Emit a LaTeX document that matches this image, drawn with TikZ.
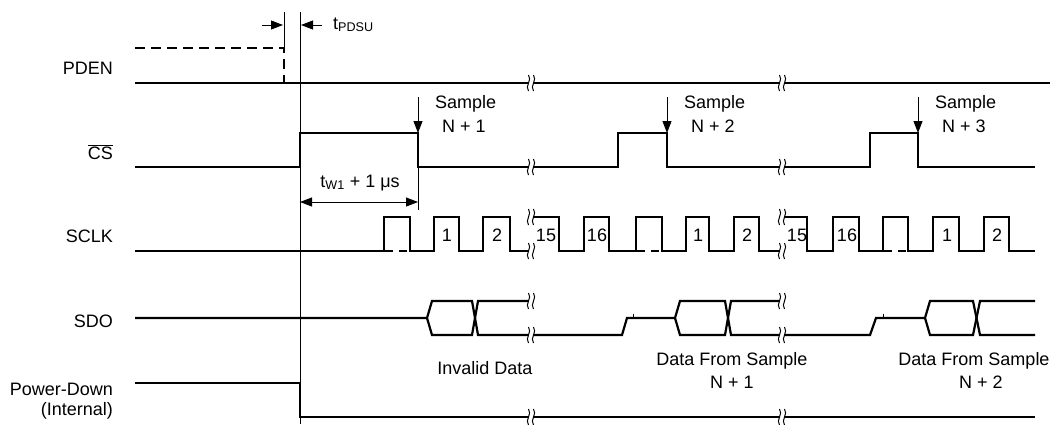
\documentclass[tikz,border=0pt]{standalone}
\usepackage{fontspec}
\setmainfont{Liberation Sans}
\usetikzlibrary{arrows.meta}

\begin{document}
\begin{tikzpicture}[x=1pt,y=-1pt,font=\fontsize{18}{22}\selectfont,
  sig/.style={line width=2.2pt},
  fine/.style={line width=0.9pt},
  tip/.style={-{Triangle[length=12pt,width=9pt]}},
  lbl/.style={anchor=base east,inner sep=0pt},
  txt/.style={anchor=base west,inner sep=0pt},
  mid/.style={anchor=base,inner sep=0pt},
  brk/.pic={
    \fill[white] (-2.5,-8) .. controls (1.5,-3) and (-6.5,3) .. (-2.5,8)
      -- (2.5,8) .. controls (-1.5,3) and (6.5,-3) .. (2.5,-8) -- cycle;
    \draw[line width=1pt] (-2.5,-8) .. controls (1.5,-3) and (-6.5,3) .. (-2.5,8);
    \draw[line width=1pt] (2.5,-8) .. controls (6.5,-3) and (-1.5,3) .. (2.5,8);
  }]
\useasboundingbox (0,0) rectangle (1055,424);

% Signal names
\node[lbl] (pden) at (113,74) {PDEN};
\node[lbl] (cs) at (113,159) {$\overline{\mbox{CS}}$};
\node[lbl] (sclk) at (113,242) {SCLK};
\node[lbl] (sdo) at (113,327) {SDO};
\node[lbl] (pd) at (113,395) {Power-Down};
\node[lbl] (pdint) at (113,415) {(Internal)};

% Reference lines
\draw[fine] (284,12) -- (284,48);
\draw[fine] (300,12) -- (300,424);

% t_PDSU
\coordinate (pl) at (262,25);
\coordinate (pr) at (283,25);
\coordinate (ql) at (301,25);
\coordinate (qr) at (322,25);
\draw[fine,tip] (pl) -- (pr);
\draw[fine,tip] (qr) -- (ql);
\node[txt] (tpdsu) at (333,29) {t\textsubscript{PDSU}};

% PDEN
\draw[sig,dash pattern=on 10pt off 6pt] (135,48) -- (284,48) -- (284,83);
\draw[sig] (135,83) -- (1050,83);

% CS
\draw[sig] (135,167) -- (300,167) -- (300,133) -- (418,133) -- (418,167)
  -- (618,167) -- (618,133) -- (667,133) -- (667,167)
  -- (870,167) -- (870,133) -- (918,133) -- (918,167) -- (1035,167);

% Sample points
\coordinate (s1) at (418,97);
\coordinate (c1) at (418,133);
\draw[fine,tip] (s1) -- (c1);
\node[txt] (smp1) at (435,108) {Sample};
\node[txt] (n1) at (442,132) {N + 1};

\coordinate (s2) at (667,97);
\coordinate (c2) at (667,133);
\draw[fine,tip] (s2) -- (c2);
\node[txt] (smp2) at (684,108) {Sample};
\node[txt] (n2) at (691,132) {N + 2};

\coordinate (s3) at (918,97);
\coordinate (c3) at (918,133);
\draw[fine,tip] (s3) -- (c3);
\node[txt] (smp3) at (935,108) {Sample};
\node[txt] (n3) at (942,132) {N + 3};

% t_W1 + 1 us
\coordinate (w0) at (300,202);
\coordinate (w1) at (418,202);
\draw[fine] (418,167) -- (418,210);
\draw[fine,{Triangle[length=12pt,width=9pt]}-{Triangle[length=12pt,width=9pt]}] (w0) -- (w1);
\node[mid] (tw) at (360,187) {t\textsubscript{W1} + 1 μs};

% SCLK
\draw[sig] (135,251) -- (384,251) -- (384,217) -- (410,217) -- (410,251)
  -- (434,251) -- (434,217) -- (459,217) -- (459,251)
  -- (483,251) -- (483,217) -- (510,217) -- (510,251) -- (531,251);
\draw[sig] (531,217) -- (559,217) -- (559,251) -- (584,251) -- (584,217)
  -- (609,217) -- (609,251) -- (636,251) -- (636,217) -- (662,217) -- (662,251)
  -- (686,251) -- (686,217) -- (709,217) -- (709,251)
  -- (734,251) -- (734,217) -- (759,217) -- (759,251) -- (782,251);
\draw[sig] (782,217) -- (807,217) -- (807,251) -- (833,251) -- (833,217)
  -- (859,217) -- (859,251) -- (883,251) -- (883,217) -- (908,217) -- (908,251)
  -- (933,251) -- (933,217) -- (959,217) -- (959,251)
  -- (984,251) -- (984,217) -- (1009,217) -- (1009,251) -- (1035,251);
\draw[sig,dash pattern=on 8pt off 6pt] (385,251) -- (410,251);
\draw[sig,dash pattern=on 8pt off 6pt] (637,251) -- (662,251);
\draw[sig,dash pattern=on 8pt off 6pt] (884,251) -- (908,251);

\node[mid] (k1) at (447,241) {1};
\node[mid] (k2) at (497,241) {2};
\node[mid] (k15) at (546,241) {15};
\node[mid] (k16) at (597,241) {16};
\node[mid] (k1b) at (698,241) {1};
\node[mid] (k2b) at (747,241) {2};
\node[mid] (k15b) at (797,241) {15};
\node[mid] (k16b) at (847,241) {16};
\node[mid] (k1c) at (947,241) {1};
\node[mid] (k2c) at (997,241) {2};

% SDO
\draw[sig] (135,318) -- (427,318) -- (432,301) -- (472,301) -- (478,335) -- (531,335);
\draw[sig] (427,318) -- (432,335) -- (472,335) -- (478,301) -- (531,301);
\draw[sig] (531,335) -- (622,335) -- (627,318) -- (675,318) -- (680,301)
  -- (725,301) -- (731,335) -- (782,335);
\draw[sig] (675,318) -- (680,335) -- (725,335) -- (731,301) -- (782,301);
\draw[sig] (782,335) -- (870,335) -- (876,318) -- (925,318) -- (930,301)
  -- (973,301) -- (980,335) -- (1035,335);
\draw[sig] (925,318) -- (930,335) -- (973,335) -- (980,301) -- (1035,301);
\draw[fine] (633,314) -- (633,318);
\draw[fine] (883,314) -- (883,318);

\node[mid] (inv) at (485,374) {Invalid Data};
\node[mid] (dfs1) at (732,365) {Data From Sample};
\node[mid] (dn1) at (732,388) {N + 1};
\node[mid] (dfs2) at (974,365) {Data From Sample};
\node[mid] (dn2) at (981,388) {N + 2};

% Power-Down (Internal)
\draw[sig] (135,383) -- (300,383) -- (300,417) -- (1035,417);

% Breaks
\foreach \bx in {531,782} {
  \foreach \by in {83,167,217,251,301,335,417} {
    \pic at (\bx,\by) {brk};
  }
}
\end{tikzpicture}
\end{document}
